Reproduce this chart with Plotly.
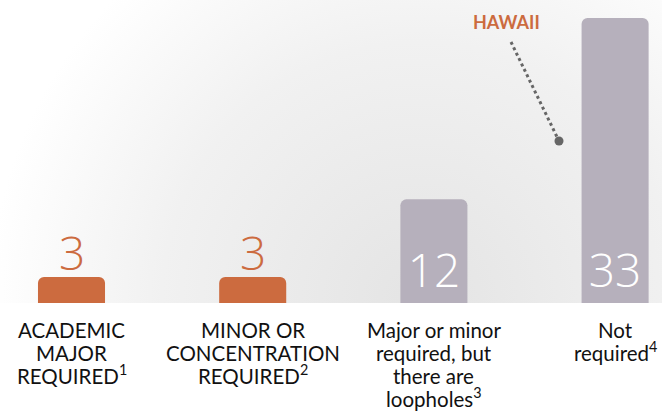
import plotly.graph_objects as go

# Data
categories = [['ACADEMIC', 'MAJOR', 'REQUIRED<sup>1</sup>'],
              ['MINOR OR', 'CONCENTRATION', 'REQUIRED<sup>2</sup>'],
              ['Major or minor', 'required, but', 'there are', 'loopholes<sup>3</sup>'],
              ['Not', 'required<sup>4</sup>']]
counts = [3, 3, 12, 33]
highlight = [True, True, False, False]

ORANGE = '#CC6B3F'
GREY = '#B6B0BC'

# Layout constants (pixels)
W, H = 662, 411
BASE = 303          # baseline from top
PX_X = 181.2        # pixels per category
PX_Y = 8.636        # pixels per unit
x0 = -71.5 / PX_X
x_rng = [x0, x0 + W / PX_X]
y_rng = [0, BASE / PX_Y]

def px2x(p):
    return x0 + p / PX_X

def px2y(p):
    return (BASE - p) / PX_Y

fig = go.Figure()

# Soft radial background glow (on the base axes, so bars sit above it)
cx, cy, R = 420, 300, 430
fig.add_trace(go.Scatter(
    x=[px2x(cx - R), px2x(cx + R), px2x(cx + R), px2x(cx - R), px2x(cx - R)],
    y=[px2y(cy - R), px2y(cy - R), px2y(cy + R), px2y(cy + R), px2y(cy - R)],
    mode='lines', line=dict(width=0), fill='toself',
    fillgradient=dict(type='radial',
                      colorscale=[[0, '#e4e4e4'], [0.6, '#f1f1f1'], [1, '#ffffff']]),
    hoverinfo='skip', showlegend=False, xaxis='x', yaxis='y'))

num_font = dict(family='Open Sans', size=46, weight=300)

# Bars (white numbers inside the grey bars)
fig.add_trace(go.Bar(
    x=list(range(len(counts))),
    y=counts,
    width=0.37,
    marker=dict(color=[ORANGE if h else GREY for h in highlight], line_width=0),
    text=['' if h else str(c) for c, h in zip(counts, highlight)],
    textposition='inside',
    insidetextanchor='start',
    textfont=dict(color='white', **num_font),
    showlegend=False, xaxis='x2', yaxis='y2'))

# Orange numbers sitting on the short bars
for i, (c, h) in enumerate(zip(counts, highlight)):
    if h:
        fig.add_annotation(x=i, y=c, xref='x2', yref='y2', text=str(c),
                           showarrow=False, yanchor='bottom', yshift=-8,
                           font=dict(color=ORANGE, **num_font))

# Category labels, one line at a time for tight leading
for i, lines in enumerate(categories):
    for k, line in enumerate(lines):
        fig.add_annotation(x=i, y=0, xref='x2', yref='paper', text=line,
                           showarrow=False, yanchor='bottom',
                           yshift=-40.5 - 23 * k,
                           font=dict(family='Lato', size=20.5, color='#111111'))

# Hawaii callout
fig.add_trace(go.Scatter(x=[px2x(559)], y=[px2y(141)], mode='markers',
                         marker=dict(size=9, color='#666666'),
                         hoverinfo='skip', showlegend=False, xaxis='x2', yaxis='y2'))
fig.add_annotation(x=2.40, y=32.55, xref='x2', yref='y2', text='<b>HAWAII</b>',
                   showarrow=False, font=dict(family='Lato', size=18, color=ORANGE))
fig.add_shape(type='line', xref='x2', yref='y2',
              x0=px2x(511), y0=px2y(42), x1=px2x(559), y1=px2y(141),
              line=dict(color='#666666', width=3, dash='dot'))

hidden = dict(visible=False, showgrid=False, zeroline=False, fixedrange=True)
fig.update_layout(
    width=W, height=H,
    margin=dict(l=0, r=0, t=0, b=H - BASE),
    paper_bgcolor='white',
    plot_bgcolor='white',
    barcornerradius=6,
    xaxis=dict(range=x_rng, **hidden),
    yaxis=dict(range=y_rng, **hidden),
    xaxis2=dict(range=x_rng, overlaying='x', **hidden),
    yaxis2=dict(range=y_rng, overlaying='y', **hidden),
)

fig.write_html("out.html", config={'displayModeBar': False},
               post_script="document.body.style.margin='0';")
